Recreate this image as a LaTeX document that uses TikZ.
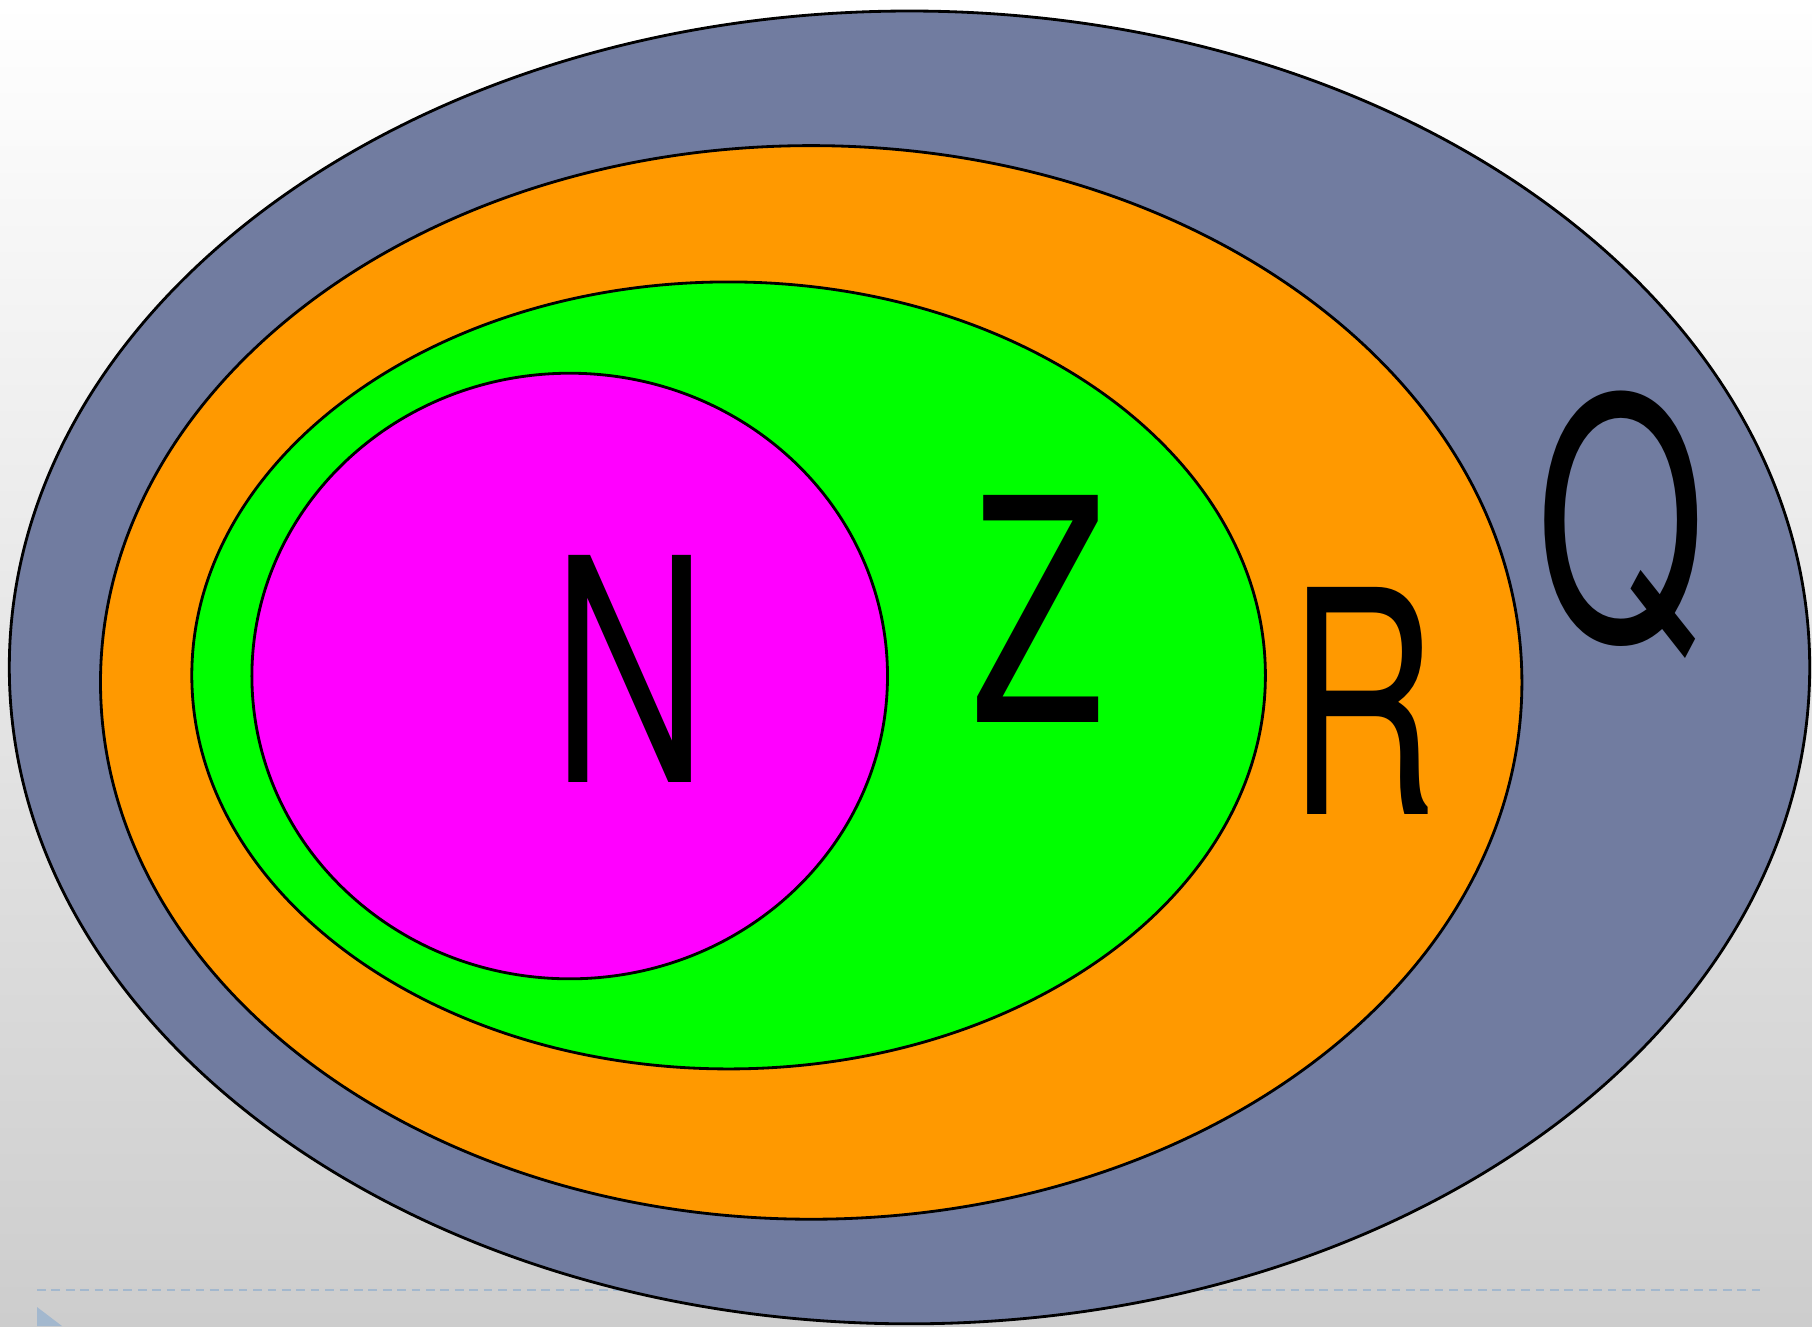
\documentclass[tikz,border=0pt]{standalone}
\usepackage{fontspec}
\setmainfont{TeX Gyre Heros}
\definecolor{setQ}{RGB}{113,124,160}
\definecolor{setR}{RGB}{255,153,0}
\definecolor{setZ}{RGB}{0,255,0}
\definecolor{setN}{RGB}{255,0,255}
\definecolor{guideblue}{RGB}{163,184,206}
\definecolor{bgbottom}{RGB}{205,205,205}
\tikzset{
  setline/.style={draw=black, line width=0.8pt},
  setlabel/.style={inner sep=0pt, anchor=base, font=\fontsize{88.6pt}{98pt}\selectfont},
}
\newcommand{\narrowletter}[2]{\scalebox{#1}[1]{#2}}

\begin{document}
\begin{tikzpicture}[x=0.01cm, y=-0.01cm]
  \useasboundingbox (0,0) rectangle (1812,1326);
  % 1. Background
  \shade[top color=white, bottom color=bgbottom] (0,0) rectangle (1812,1326);
  \draw[guideblue, line width=0.6pt, dash pattern=on 0.087cm off 0.057cm] (37,1290) -- (1766,1290);
  \fill[guideblue] (37,1307) -- (62,1326) -- (37,1326) -- cycle;

  % 2. The nested sets
  \draw[setline, fill=setQ] (909.5,667.4) ellipse [x radius=900.2, y radius=656.4];
  \draw[setline, fill=setR] (811.2,682.4) ellipse [x radius=710.7, y radius=536.8];
  \draw[setline, fill=setZ] (728.6,675.4) ellipse [x radius=536.8, y radius=393.5];
  \draw[setline, fill=setN] (569.7,676) ellipse [x radius=317.8, y radius=302.8];

  % 3. Labels
  \node[setlabel] (labN) at (630,782.7) {\narrowletter{0.69}{N}};
  \node[setlabel] (labZ) at (1038,722.3) {\narrowletter{0.70}{Z}};
  \node[setlabel] (labR) at (1363,814) {\narrowletter{0.66}{R}};
  \node[setlabel, font=\fontsize{95pt}{105pt}\selectfont] (labQ) at (1621,640) {\narrowletter{0.65}{Q}};
\end{tikzpicture}
\end{document}
